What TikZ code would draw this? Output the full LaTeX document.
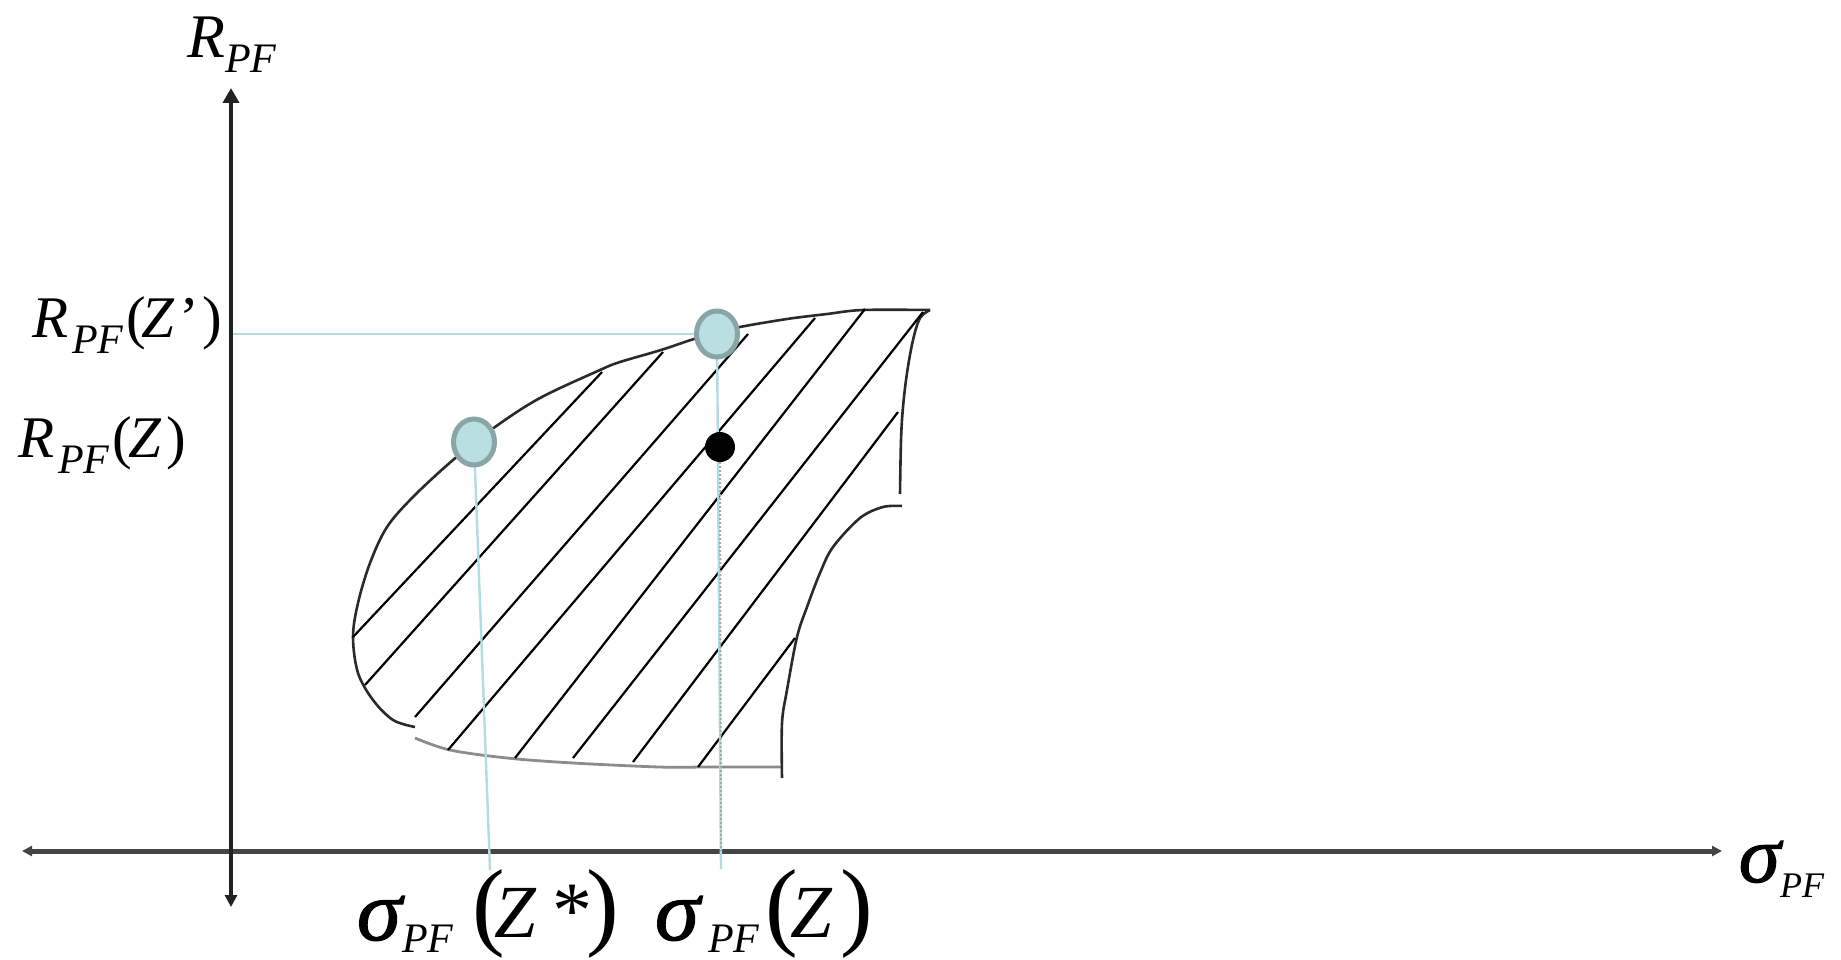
\documentclass[tikz,border=0pt]{standalone}
\usepackage{fontspec}
\setmainfont{Liberation Serif}
\newfontfamily\sigf[FakeBold=1.5,FakeSlant=0.12]{Liberation Serif}
\usetikzlibrary{arrows.meta,shapes.geometric}
\definecolor{axisc}{HTML}{222222}
\definecolor{haxc}{HTML}{444444}
\definecolor{boundc}{HTML}{2A2A2A}
\definecolor{boundlc}{HTML}{8C8C8C}
\definecolor{guidec}{HTML}{B3DCDF}
\definecolor{ptfill}{HTML}{B9DFE1}
\definecolor{ptdraw}{HTML}{8AA5A5}
\newcommand\fsz[1]{\fontsize{#1}{#1}\selectfont}
\begin{document}
\begin{tikzpicture}[x=1pt,y=-1pt,
  vaxis/.style={line width=4.3pt, draw=axisc},
  haxis/.style={line width=5pt, draw=haxc},
  bound/.style={line width=2.6pt, draw=boundc, line join=round},
  boundl/.style={line width=2.8pt, draw=boundlc, line join=round},
  hatch/.style={line width=2.2pt, draw=black},
  guide/.style={line width=2.4pt, draw=guidec},
  dotl/.style={line width=2pt, draw=gray!70, dash pattern=on 2pt off 2pt},
  ptc/.style={ellipse, draw=ptdraw, fill=ptfill, line width=5pt, minimum width=41pt, minimum height=46pt, inner sep=0pt},
  bdot/.style={circle, fill=black, minimum size=30pt, inner sep=0pt},
  lbl/.style={inner sep=0pt, anchor=base west}
]
\useasboundingbox (0,0) rectangle (1841,960);
% axes
\coordinate (otop) at (231,88);
\coordinate (obot) at (231,907);
\coordinate (xl) at (22,851);
\coordinate (xr) at (1722,851);
\draw[haxis, {Triangle[length=10pt,width=10pt]}-{Triangle[length=10pt,width=10pt]}] (xl) -- (xr);
\draw[vaxis, {Triangle[length=12pt,width=12pt]}-{Triangle[length=15pt,width=16pt]}] (obot) -- (otop);
% region boundary
\draw[bound] plot[smooth, tension=0.55] coordinates {
 (930,310) (863,310) (827,314) (787,319) (740,327) (717,333) (694,339)
 (661,350) (620,362) (600,370) (540,398) (495,427) (453,460) (413,497)
 (387,527) (370,563) (358,603) (353,637) (358,673) (373,700) (393,720) (415,727)};
\draw[boundl] plot[smooth, tension=0.55] coordinates {
 (415,738) (450,750) (507,758) (573,763) (659,767) (700,767)} -- (782,767);
\draw[bound] plot[smooth, tension=0.55] coordinates {
 (782,778) (782,723) (787,690) (797,637) (807,607) (820,573) (833,547) (860,518) (883,507) (902,506)};
\draw[bound] plot[smooth, tension=0.55] coordinates {
 (930,310) (920,318) (913,340) (907,373) (903,407) (901,440) (900,494)};
% hatching
\draw[hatch] (602,372) -- (353,637);
\draw[hatch] (663,352) -- (365,685);
\draw[hatch] (748,334) -- (415,717);
\draw[hatch] (815,318) -- (448,750);
\draw[hatch] (865,309) -- (515,758);
\draw[hatch] (923,312) -- (573,758);
\draw[hatch] (898,412) -- (633,762);
\draw[hatch] (795,638) -- (698,767);
% guide lines
\coordinate (c1p) at (474,442);
\coordinate (c2p) at (717,334);
\coordinate (yzp) at (233,334);
\coordinate (c1end) at (490,870);
\coordinate (c2end) at (721,869);
\coordinate (dend) at (721,851);
\draw[guide] (yzp) -- (c2p);
\draw[guide] (c1p) -- (c1end);
\draw[guide] (c2p) -- (c2end);
\node[bdot] (dot) at (720,447) {};
\draw[dotl] (dot.south) -- (dend);
\node[ptc] (c1) at (c1p) {};
\node[ptc] (c2) at (c2p) {};
% labels
\node[lbl] (ryR) at (187,58) {\fsz{62}\itshape R};
\node[lbl] (rySub) at (225,73) {\fsz{42}\itshape PF};
\node[lbl] (r2R) at (32,337) {\fsz{59}\itshape R};
\node[lbl] (r2Sub) at (72,353) {\fsz{42}\itshape PF};
\node[lbl] (r2L) at (126,337) {\fsz{59}(};
\node[lbl] (r2Z) at (141,337) {\fsz{59}\itshape Z};
\node[lbl] (r2Q) at (179,337) {\fsz{59}’};
\node[lbl] (r2R2) at (202,337) {\fsz{59})};
\node[lbl] (r1R) at (18,457) {\fsz{59}\itshape R};
\node[lbl] (r1Sub) at (58,473) {\fsz{42}\itshape PF};
\node[lbl] (r1L) at (112,457) {\fsz{59}(};
\node[lbl] (r1Z) at (128,457) {\fsz{59}\itshape Z};
\node[lbl] (r1R2) at (166,457) {\fsz{59})};
\node[lbl] (sxS) at (1736,882) {\fsz{80}\sigf σ};
\node[lbl] (sxSub) at (1780,897) {\fsz{36}\itshape PF};
\node[lbl] (s1S) at (354,940) {\fsz{86}\sigf σ};
\node[lbl] (s1Sub) at (402,952) {\fsz{42}\itshape PF};
\node[lbl] (s1L) at (472,937) {\fsz{98}(};
\node[lbl] (s1Z) at (494,937) {\fsz{75}\itshape Z};
\node[lbl] (s1St) at (552,937) {\fsz{80}*};
\node[lbl] (s1R) at (586,937) {\fsz{98})};
\node[lbl] (s2S) at (652,940) {\fsz{86}\sigf σ};
\node[lbl] (s2Sub) at (708,952) {\fsz{42}\itshape PF};
\node[lbl] (s2L) at (765,937) {\fsz{98}(};
\node[lbl] (s2Z) at (790,937) {\fsz{75}\itshape Z};
\node[lbl] (s2R) at (840,937) {\fsz{98})};
\end{tikzpicture}
\end{document}
